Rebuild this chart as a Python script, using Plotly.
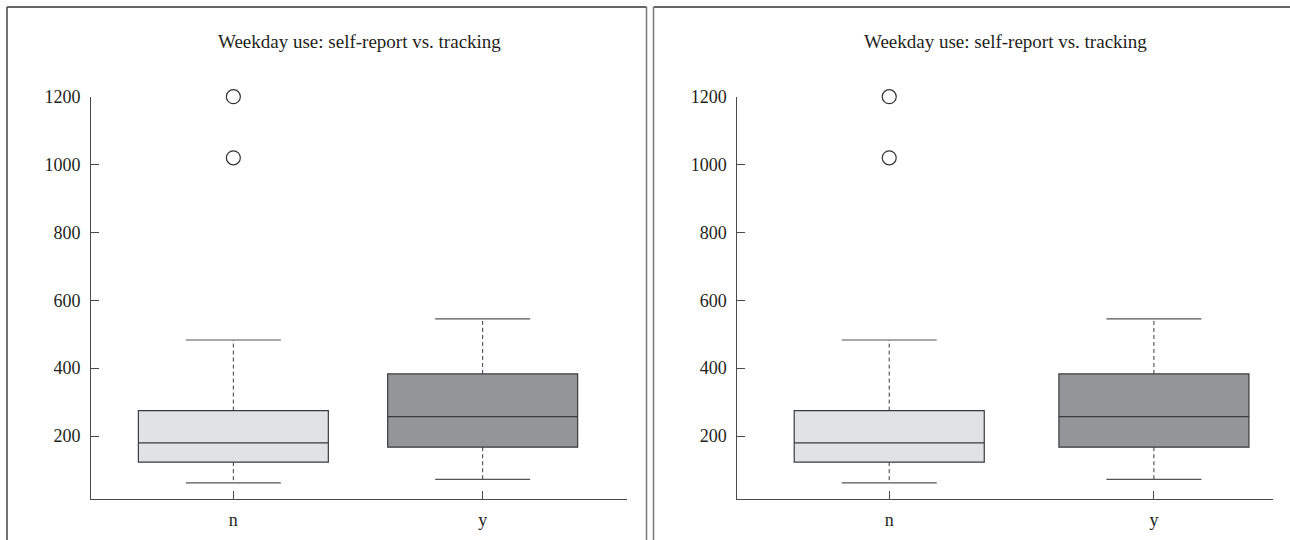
import plotly.graph_objects as go

# Weekday minutes: self-report groups "n" and "y"
categories = ["n", "y"]
q1 = [123, 167]
median = [180, 257]
q3 = [275, 383]
lower_whisker = [62, 72]
upper_whisker = [483, 545]
outlier_x = [0, 0]
outlier_y = [1200, 1020]
y_ticks = [200, 400, 600, 800, 1000, 1200]

fills = ["#e1e2e4", "#939598"]
edge = "#3a3a3a"
font_family = "Liberation Serif"
title_text = "Weekday use: self-report vs. tracking"

W, H = 1290, 540
# per-panel settings: plot area in pixels, x range, box width
panels = [
    dict(px=(91, 627), xrange=[-0.571, 1.579], bw=0.762),
    dict(px=(737.3, 1273.3), xrange=[-0.574, 1.451], bw=0.718),
]
y_top_px, y_bot_px = 96.7, 498.7
y_range = [15.3, 1200]

fig = go.Figure()
layout = dict(
    width=W, height=H,
    margin=dict(l=0, r=0, t=0, b=0, pad=0, autoexpand=False),
    paper_bgcolor="white", plot_bgcolor="white",
    showlegend=False,
    font=dict(family=font_family, size=18, color="#231f20"),
)

annotations = []
shapes = []
for k, p in enumerate(panels):
    xa = "x" if k == 0 else "x2"
    ya = "y" if k == 0 else "y2"
    xkey = "xaxis" if k == 0 else "xaxis2"
    ykey = "yaxis" if k == 0 else "yaxis2"
    dom = [p["px"][0] / W, p["px"][1] / W]
    layout[xkey] = dict(
        domain=dom, range=p["xrange"], anchor=ya, automargin=False,
        tickvals=list(range(len(categories))), ticktext=categories,
        showline=True, linecolor="#4a4a4a", linewidth=1,
        ticks="inside", ticklen=8, tickcolor="#4a4a4a", tickwidth=1,
        showgrid=False, zeroline=False, ticklabelstandoff=5,
        tickfont=dict(size=18, color="#231f20"),
    )
    layout[ykey] = dict(
        domain=[1 - y_bot_px / H, 1 - y_top_px / H], range=y_range, anchor=xa,
        automargin=False, tickvals=y_ticks,
        showline=True, linecolor="#4a4a4a", linewidth=1,
        ticks="inside", ticklen=8, tickcolor="#4a4a4a", tickwidth=1,
        showgrid=False, zeroline=False, ticklabelstandoff=6,
        tickfont=dict(size=18, color="#231f20"),
    )
    cap = p["bw"] / 4
    for i, cat in enumerate(categories):
        fig.add_trace(go.Box(
            x=[i], q1=[q1[i]], median=[median[i]], q3=[q3[i]],
            lowerfence=[q1[i]], upperfence=[q3[i]],
            width=p["bw"], whiskerwidth=0, boxpoints=False,
            fillcolor=fills[i], line=dict(color=edge, width=1.2),
            xaxis=xa, yaxis=ya, name=cat, hoverinfo="skip",
        ))
        # dashed whiskers
        for a, b in ((q3[i], upper_whisker[i]), (q1[i], lower_whisker[i])):
            fig.add_trace(go.Scatter(
                x=[i, i], y=[a, b], mode="lines",
                line=dict(color=edge, width=1, dash="4px,3px"),
                xaxis=xa, yaxis=ya, hoverinfo="skip",
            ))
        # whisker caps
        for v in (upper_whisker[i], lower_whisker[i]):
            fig.add_trace(go.Scatter(
                x=[i - cap, i + cap], y=[v, v], mode="lines",
                line=dict(color="#555", width=1.2),
                xaxis=xa, yaxis=ya, hoverinfo="skip",
            ))
    fig.add_trace(go.Scatter(
        x=outlier_x, y=outlier_y, mode="markers", cliponaxis=False,
        marker=dict(symbol="circle-open", size=14, color="#333", line=dict(width=1.2)),
        xaxis=xa, yaxis=ya, hoverinfo="skip",
    ))
    annotations.append(dict(
        text=title_text, xref="paper", yref="paper",
        x=sum(dom) / 2, y=1 - 41 / H, xanchor="center", yanchor="middle",
        showarrow=False, font=dict(size=19, color="#231f20"),
    ))

# panel frames (open at the bottom)
frame = dict(type="line", xref="paper", yref="paper", layer="above")
for x0, x1 in ((7, 646.5), (653.5, 1290)):
    shapes.append(dict(frame, x0=x0 / W, x1=x1 / W, y0=1 - 7 / H, y1=1 - 7 / H,
                       line=dict(color="#333", width=1.5)))
    shapes.append(dict(frame, x0=x0 / W, x1=x0 / W, y0=0, y1=1 - 7 / H,
                       line=dict(color="#444" if x0 < 10 else "#777", width=1.5)))
shapes.append(dict(frame, x0=646.5 / W, x1=646.5 / W, y0=0, y1=1 - 7 / H,
                   line=dict(color="#777", width=1.5)))

layout["annotations"] = annotations
layout["shapes"] = shapes
fig.update_layout(**layout)
fig.write_html("out.html")
